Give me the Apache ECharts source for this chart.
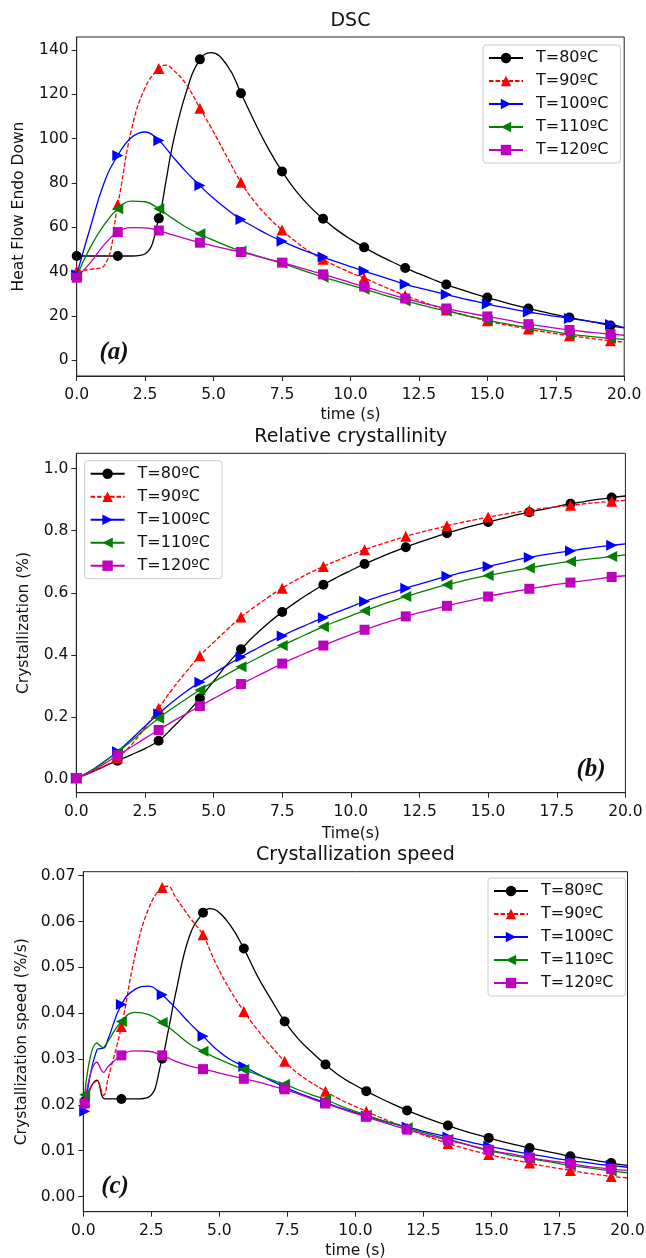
<!DOCTYPE html>
<html><head><meta charset="utf-8">
<script src="https://cdn.jsdelivr.net/npm/echarts@6/dist/echarts.min.js"></script>
<style>html,body{margin:0;padding:0;background:#fff}#c{width:646px;height:1258px}</style>
</head><body><div id="c"></div>
<script>
// ---------- data ----------
const seriesNames = ['T=80ºC', 'T=90ºC', 'T=100ºC', 'T=110ºC', 'T=120ºC'];
const panelTitles = ['DSC', 'Relative crystallinity', 'Crystallization speed'];
const xNames = ['time (s)', 'Time(s)', 'time (s)'];
const yNames = ['Heat Flow Endo Down', 'Crystallization (%)', 'Crystallization speed (%/s)'];
const panelLabels = ['(a)', '(b)', '(c)'];

const xTicks = [0, 2.5, 5, 7.5, 10, 12.5, 15, 17.5, 20];
const dscTicks = [0, 20, 40, 60, 80, 100, 120, 140];
const crystTicks = [0, 0.2, 0.4, 0.6, 0.8, 1.0];
const speedTicks = [0, 0.01, 0.02, 0.03, 0.04, 0.05, 0.06, 0.07];

// marker positions (s)
const markAB = [0,1.5,3,4.5,6,7.5,9,10.5,12,13.5,15,16.5,18,19.5];
const markC = [0.05,1.4,2.9,4.4,5.9,7.4,8.9,10.4,11.9,13.4,14.9,16.4,17.9,19.4];

// (a) DSC
const timeA = [0,0.5,1,1.5,2,2.5,3,3.25,3.5,4,4.5,4.9,5.5,6,6.5,7,7.5,8,8.5,9,9.5,10,10.5,11,11.5,12,12.5,13,13.5,14,14.5,15,15.5,16,16.5,17,17.5,18,18.5,19,19.5,20];
const dsc80  = [47,47,47,47,47,48,64,80,97,121,135.8,138.8,133,120.5,107.5,95.5,85.2,76.5,69.5,63.8,58.8,54.6,50.9,47.5,44.5,41.6,39,36.5,34.1,32,30,28.2,26.5,24.8,23.3,21.9,20.5,19.2,18,16.9,15.6,14.5];
const dsc90  = [40.2,41,42.5,70.2,104,123,131.7,133.2,131.3,124.5,113.7,105.2,91.5,80.3,71.5,64.5,58.7,53.5,49,45.5,42.3,39.5,37,34.3,31.7,29.2,26.9,24.7,22.6,20.8,19.2,17.7,16.3,15.1,14,12.9,11.9,11,10.2,9.4,8.7,8.1];
const dsc100 = [38.5,60,80,92.4,100.5,103,99.2,95.8,92,85,78.8,74.1,68,63.5,60,56.6,53.7,51,48.6,46.5,44.3,42.2,40.2,38.2,36.2,34.2,32.6,31.1,29.6,28.1,26.7,25.3,24,22.8,21.7,20.7,19.7,18.8,17.9,17,16.1,14.7];
const dsc110 = [38,51,61,68.3,71.8,71.5,68.3,66.2,64,60,57,54.6,51.5,49.2,47.4,45.5,43.7,41.6,39.5,37.4,35.6,33.8,32,30.2,28.4,26.7,25.1,23.6,22.2,20.8,19.4,18,16.8,15.7,14.7,13.7,12.7,11.7,11,10.4,9.8,9.3];
const dsc120 = [37.2,44,52,57.8,59.8,59.7,58.5,57.5,56.5,54.7,53,51.8,50.1,48.8,47.2,45.6,44,42.3,40.5,38.7,36.9,35,33.2,31.3,29.5,27.8,26.2,24.7,23.3,22,20.8,19.7,18.6,17.4,16.2,15.3,14.4,13.6,12.9,12.3,11.7,11.2];

// (b) relative crystallinity
const timeB = [0,0.5,1,1.5,2,2.5,3,3.5,4,4.5,5,5.5,6,6.5,7,7.5,8,8.5,9,9.5,10,10.5,11,11.5,12,12.5,13,13.5,14,14.5,15,15.5,16,16.5,17,17.5,18,18.5,19,19.5,20];
const cryst80  = [0.003,0.02,0.04,0.059,0.078,0.098,0.123,0.165,0.21,0.26,0.315,0.37,0.418,0.463,0.503,0.538,0.57,0.599,0.626,0.65,0.672,0.693,0.712,0.73,0.747,0.763,0.778,0.792,0.805,0.817,0.828,0.839,0.85,0.86,0.869,0.878,0.887,0.894,0.901,0.907,0.912];
const cryst90  = [0.003,0.02,0.04,0.068,0.11,0.165,0.228,0.29,0.345,0.397,0.44,0.482,0.522,0.555,0.586,0.615,0.641,0.664,0.685,0.704,0.722,0.739,0.754,0.768,0.782,0.794,0.805,0.816,0.826,0.835,0.844,0.852,0.859,0.866,0.872,0.877,0.882,0.887,0.891,0.895,0.898];
const cryst100 = [0.003,0.025,0.055,0.088,0.128,0.17,0.21,0.248,0.282,0.312,0.34,0.367,0.393,0.417,0.44,0.461,0.482,0.501,0.52,0.538,0.555,0.572,0.587,0.601,0.615,0.628,0.641,0.653,0.664,0.675,0.685,0.695,0.705,0.714,0.722,0.729,0.735,0.742,0.748,0.753,0.758];
const cryst110 = [0.003,0.025,0.055,0.086,0.122,0.16,0.196,0.228,0.258,0.287,0.313,0.338,0.362,0.385,0.408,0.43,0.451,0.471,0.491,0.509,0.526,0.542,0.558,0.573,0.588,0.601,0.614,0.626,0.637,0.647,0.656,0.664,0.672,0.68,0.688,0.695,0.701,0.707,0.712,0.717,0.722];
const cryst120 = [0.003,0.022,0.048,0.076,0.103,0.131,0.158,0.185,0.21,0.235,0.259,0.283,0.306,0.328,0.35,0.372,0.392,0.411,0.43,0.448,0.465,0.481,0.496,0.51,0.524,0.536,0.547,0.558,0.568,0.578,0.588,0.597,0.605,0.613,0.62,0.627,0.633,0.639,0.645,0.651,0.655];

// (c) crystallization speed
const timeC = [0.05,0.5,0.75,0.9,1.4,1.9,2.4,2.9,3.1,3.4,3.9,4.4,4.65,4.9,5.4,5.9,6.4,6.9,7.4,7.9,8.4,8.9,9.4,9.9,10.4,10.9,11.4,11.9,12.4,12.9,13.4,13.9,14.4,14.9,15.4,15.9,16.4,16.9,17.4,17.9,18.4,18.9,19.4,20];
const speed80  = [0.0208,0.0254,0.0214,0.0213,0.0213,0.0213,0.0217,0.0301,0.0355,0.0445,0.0568,0.0619,0.0628,0.0624,0.0592,0.0541,0.0481,0.0430,0.0382,0.0344,0.0315,0.0288,0.0264,0.0246,0.0230,0.0215,0.0201,0.0188,0.0176,0.0165,0.0155,0.0145,0.0136,0.0128,0.0120,0.0113,0.0106,0.0100,0.0094,0.0088,0.0083,0.0078,0.0073,0.0068];
const speed90  = [0.0208,0.0252,0.0221,0.0255,0.0371,0.0525,0.0628,0.0674,0.0677,0.0652,0.0610,0.0571,0.0538,0.0505,0.0450,0.0404,0.0364,0.0328,0.0295,0.0268,0.0248,0.0230,0.0213,0.0199,0.0186,0.0173,0.0161,0.0149,0.0137,0.0126,0.0116,0.0107,0.0099,0.0092,0.0085,0.0079,0.0073,0.0067,0.0062,0.0057,0.0052,0.0048,0.0044,0.0041];
const speed100 = [0.0186,0.0320,0.0325,0.0342,0.0419,0.0452,0.0459,0.0440,0.0429,0.0411,0.0379,0.0350,0.0335,0.0321,0.0299,0.0284,0.0268,0.0253,0.0239,0.0226,0.0215,0.0205,0.0194,0.0185,0.0176,0.0167,0.0159,0.0152,0.0144,0.0137,0.0130,0.0123,0.0116,0.0110,0.0104,0.0098,0.0093,0.0088,0.0083,0.0078,0.0075,0.0071,0.0068,0.0064];
const speed110 = [0.0222,0.0335,0.0324,0.0338,0.0382,0.0402,0.0397,0.0380,0.0371,0.0357,0.0333,0.0317,0.0309,0.0302,0.0289,0.0277,0.0266,0.0255,0.0245,0.0233,0.0222,0.0212,0.0199,0.0188,0.0178,0.0168,0.0159,0.0150,0.0141,0.0133,0.0125,0.0117,0.0108,0.0100,0.0094,0.0088,0.0083,0.0078,0.0073,0.0068,0.0064,0.0060,0.0056,0.0052];
const speed120 = [0.0203,0.0293,0.0271,0.0283,0.0308,0.0318,0.0317,0.0308,0.0303,0.0295,0.0285,0.0278,0.0275,0.0271,0.0264,0.0257,0.0250,0.0242,0.0234,0.0224,0.0213,0.0203,0.0193,0.0183,0.0174,0.0164,0.0155,0.0146,0.0138,0.0130,0.0123,0.0116,0.0109,0.0102,0.0096,0.0091,0.0085,0.0080,0.0076,0.0072,0.0067,0.0063,0.0060,0.0057];

// ---------- style ----------
const FONT = '"DejaVu Sans", sans-serif';
const INK = '#111';
const AXIS = '#222';
const styles = [
  {color:'#000000', symbol:'circle', size:10, type:'solid'},
  {color:'#ff0000', symbol:'triangle', size:11, type:[4.5, 2]},
  {color:'#0000ff', symbol:'path://M0,0L10,5L0,10Z', size:11, type:'solid'},
  {color:'#008000', symbol:'path://M10,0L0,5L10,10Z', size:11, type:'solid'},
  {color:'#bf00bf', symbol:'rect', size:10, type:'solid'}
];

const panels = [
  {times:timeA, marks:markAB, lists:[dsc80,dsc90,dsc100,dsc110,dsc120], yMin:-7.2, yMax:145.9, yTicks:dscTicks, yFmt:v=>String(Math.round(v)),
   grid:{left:76.7, top:37, width:547.5, height:339}, yGap:50, xGap:31,
   legend:{left:483, top:45}, label:{x:114, y:353}, titleTop:11},
  {times:timeB, marks:markAB, lists:[cryst80,cryst90,cryst100,cryst110,cryst120], yMin:-0.0442, yMax:1.0496, yTicks:crystTicks, yFmt:v=>v.toFixed(1),
   grid:{left:76.3, top:453.3, width:549.1, height:339.4}, yGap:44, xGap:33,
   legend:{left:84.6, top:460.7}, label:{x:591, y:770}, titleTop:427},
  {times:timeC, marks:markC, lists:[speed80,speed90,speed100,speed110,speed120], yMin:-0.00330, yMax:0.07087, yTicks:speedTicks, yFmt:v=>v.toFixed(2),
   grid:{left:83.3, top:871.7, width:544.2, height:340}, yGap:53, xGap:31,
   legend:{left:488, top:878}, label:{x:115, y:1187}, titleTop:845}
];

const grid = [], xAxis = [], yAxis = [], series = [], legend = [], title = [], graphic = [];
panels.forEach((p, gi) => {
  grid.push(Object.assign({show:true, borderColor:AXIS, borderWidth:1, backgroundColor:'transparent', containLabel:false, outerBoundsMode:'none'}, p.grid));
  xAxis.push({
    gridIndex:gi, type:'value', min:0, max:20, interval:2.5,
    name:xNames[gi], nameLocation:'middle', nameGap:p.xGap,
    nameTextStyle:{fontSize:15.5, color:INK, fontFamily:FONT},
    axisLine:{show:true, onZero:false, lineStyle:{color:AXIS, width:1}},
    axisTick:{show:true, inside:false, length:5, lineStyle:{color:AXIS, width:1}, customValues:xTicks},
    axisLabel:{show:true, margin:11, fontSize:15.5, color:INK, fontFamily:FONT, customValues:xTicks, formatter:v=>v.toFixed(1), showMinLabel:true, showMaxLabel:true},
    splitLine:{show:false}
  });
  yAxis.push({
    gridIndex:gi, type:'value', min:p.yMin, max:p.yMax,
    name:yNames[gi], nameLocation:'middle', nameGap:p.yGap, nameRotate:90,
    nameTextStyle:{fontSize:15.5, color:INK, fontFamily:FONT},
    axisLine:{show:true, onZero:false, lineStyle:{color:AXIS, width:1}},
    axisTick:{show:true, inside:false, length:5, lineStyle:{color:AXIS, width:1}, customValues:p.yTicks},
    axisLabel:{show:true, margin:8, fontSize:15.5, color:INK, fontFamily:FONT, customValues:p.yTicks, formatter:p.yFmt},
    splitLine:{show:false}
  });
  p.lists.forEach((vals, k) => {
    const st = styles[k];
    series.push({
      type:'line', name:seriesNames[k], xAxisIndex:gi, yAxisIndex:gi,
      data:p.times.map((t, i) => [t, vals[i]]),
      smooth:0.45, symbol:st.symbol,
      symbolSize:(v) => p.marks.some(m => Math.abs(m - v[0]) < 1e-6) ? st.size : 0,
      showSymbol:true, clip:true,
      lineStyle:{color:st.color, width:1.3, type:st.type},
      itemStyle:{color:st.color, borderWidth:0, opacity:1},
      emphasis:{disabled:true}, silent:true, z:2 + k
    });
  });
  legend.push({
    data:seriesNames.slice(), orient:'vertical', left:p.legend.left, top:p.legend.top,
    itemWidth:34, itemHeight:13, itemGap:7, padding:[5, 12, 5, 5],
    borderColor:'#cccccc', borderWidth:1, borderRadius:3, backgroundColor:'rgba(255,255,255,0.8)',
    textStyle:{fontSize:16, color:INK, fontFamily:FONT, lineHeight:16, padding:[0, 0, 0, 8]},
    selectedMode:false, inactiveColor:'#ccc'
  });
  title.push({
    text:panelTitles[gi], left:p.grid.left + p.grid.width / 2, top:p.titleTop, textAlign:'center', padding:0,
    textStyle:{fontSize:19, fontWeight:'normal', color:INK, fontFamily:FONT, lineHeight:20}
  });
  graphic.push({
    type:'text', x:p.label.x, y:p.label.y, silent:true,
    style:{text:panelLabels[gi], font:'bold italic 25px "Liberation Serif", serif', fill:INK, textAlign:'center', textVerticalAlign:'middle'}
  });
});

const chart = echarts.init(document.getElementById('c'), null, {renderer:'canvas'});
chart.setOption({animation:false, backgroundColor:'#fff', title, grid, xAxis, yAxis, legend, graphic, series});
</script>
</body></html>
